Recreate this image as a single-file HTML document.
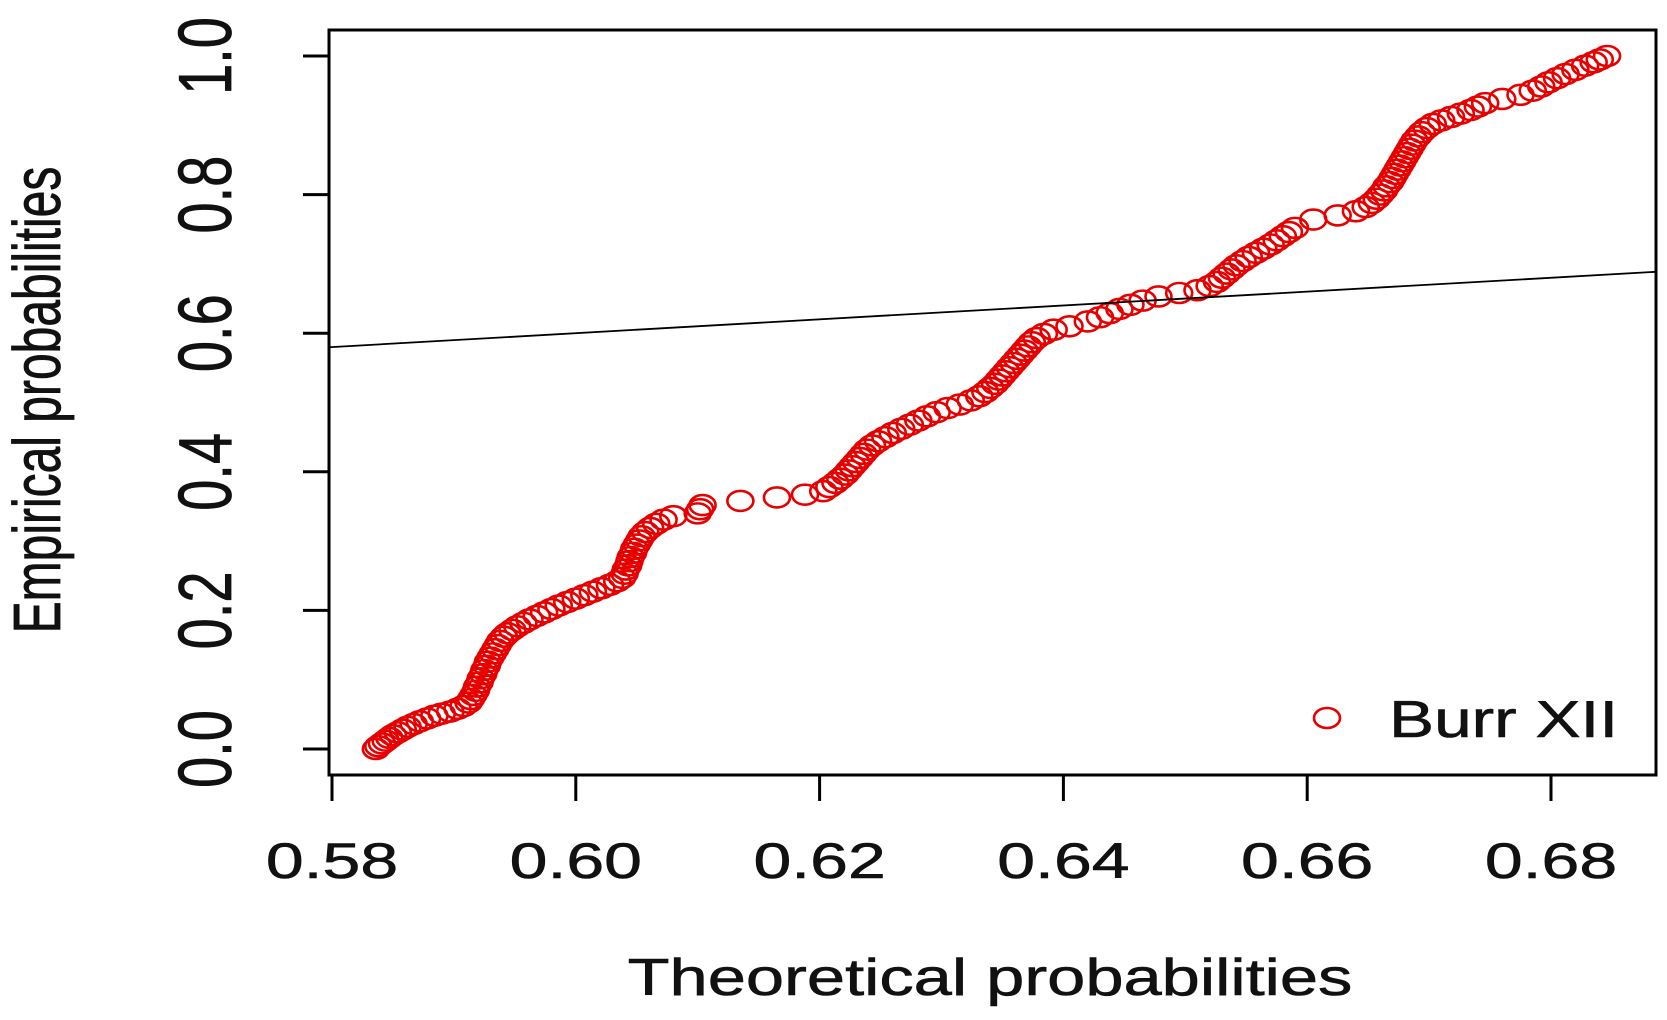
<!DOCTYPE html>
<html><head><meta charset="utf-8"><style>
body{margin:0;background:#fff}
svg{display:block;font-family:"Liberation Sans",Arial,sans-serif}
</style></head><body>
<svg id="chart" width="1667" height="1020" viewBox="0 0 1667 1020" xmlns="http://www.w3.org/2000/svg">
</svg>
<script>
const xTicks=[0.58,0.60,0.62,0.64,0.66,0.68];
const xTickLabels=["0.58","0.60","0.62","0.64","0.66","0.68"];
const yTicks=[0,0.2,0.4,0.6,0.8,1.0];
const yTickLabels=["0.0","0.2","0.4","0.6","0.8","1.0"];
const theoretical=[0.5836,0.5838,0.5841,0.5844,0.5847,0.5850,0.5854,0.5858,0.5862,0.5867,0.5872,0.5878,0.5884,0.5890,0.5897,0.5903,0.5908,0.5912,0.5914,0.5916,0.5918,0.5919,0.5921,0.5922,0.5924,0.5925,0.5927,0.5928,0.5930,0.5932,0.5934,0.5936,0.5938,0.5941,0.5944,0.5948,0.5952,0.5957,0.5962,0.5968,0.5974,0.5980,0.5986,0.5993,0.6000,0.6007,0.6014,0.6021,0.6028,0.6034,0.6038,0.6040,0.6041,0.6043,0.6044,0.6045,0.6047,0.6048,0.6050,0.6052,0.6054,0.6057,0.6061,0.6066,0.6072,0.6080,0.6100,0.6102,0.6104,0.6135,0.6165,0.6188,0.6203,0.6208,0.6213,0.6217,0.6221,0.6224,0.6227,0.6230,0.6233,0.6236,0.6239,0.6243,0.6248,0.6254,0.6260,0.6267,0.6274,0.6281,0.6288,0.6296,0.6305,0.6315,0.6324,0.6331,0.6336,0.6340,0.6344,0.6347,0.6350,0.6353,0.6356,0.6359,0.6362,0.6365,0.6368,0.6371,0.6374,0.6378,0.6384,0.6392,0.6405,0.6420,0.6430,0.6438,0.6446,0.6455,0.6465,0.6478,0.6495,0.6510,0.6520,0.6526,0.6530,0.6534,0.6538,0.6542,0.6547,0.6552,0.6558,0.6564,0.6570,0.6575,0.6580,0.6585,0.6590,0.6605,0.6625,0.6640,0.6648,0.6653,0.6657,0.6660,0.6663,0.6665,0.6668,0.6670,0.6672,0.6674,0.6676,0.6678,0.6680,0.6682,0.6684,0.6686,0.6688,0.6691,0.6694,0.6698,0.6703,0.6710,0.6718,0.6726,0.6734,0.6740,0.6746,0.6760,0.6775,0.6785,0.6792,0.6798,0.6805,0.6812,0.6820,0.6828,0.6835,0.6840,0.6846];
const empirical=[0,0.004,0.008,0.012,0.016,0.020,0.024,0.028,0.032,0.036,0.040,0.044,0.048,0.051,0.054,0.058,0.062,0.067,0.072,0.078,0.084,0.090,0.096,0.102,0.108,0.114,0.120,0.126,0.132,0.138,0.144,0.150,0.156,0.162,0.167,0.172,0.177,0.182,0.187,0.192,0.197,0.202,0.207,0.212,0.217,0.222,0.227,0.232,0.237,0.242,0.247,0.253,0.259,0.265,0.271,0.277,0.283,0.289,0.295,0.301,0.307,0.313,0.319,0.325,0.331,0.336,0.340,0.346,0.352,0.358,0.363,0.367,0.372,0.378,0.384,0.390,0.396,0.402,0.408,0.414,0.420,0.426,0.432,0.438,0.444,0.450,0.456,0.462,0.468,0.474,0.480,0.486,0.492,0.497,0.503,0.509,0.515,0.521,0.527,0.533,0.539,0.545,0.551,0.557,0.563,0.569,0.575,0.581,0.587,0.593,0.599,0.605,0.610,0.617,0.623,0.629,0.635,0.641,0.647,0.653,0.658,0.662,0.668,0.674,0.680,0.686,0.692,0.698,0.704,0.710,0.716,0.722,0.728,0.734,0.740,0.746,0.752,0.764,0.770,0.776,0.782,0.788,0.794,0.800,0.806,0.812,0.818,0.824,0.830,0.836,0.842,0.848,0.854,0.860,0.866,0.872,0.878,0.884,0.890,0.896,0.902,0.907,0.912,0.917,0.922,0.927,0.932,0.938,0.944,0.950,0.956,0.962,0.968,0.974,0.980,0.986,0.991,0.995,1.0];
const refLine=[0.5,0.7];

const L=329,R=1656,T=30,B=775;
const sx=v=>332+(v-0.58)*(1551-332)/0.10;
const sy=v=>749-v*(749-56);
const svg=document.getElementById('chart');
const NS='http://www.w3.org/2000/svg';
function mk(tag,attrs,parent){const e=document.createElementNS(NS,tag);for(const k in attrs)e.setAttribute(k,attrs[k]);(parent||svg).appendChild(e);return e;}

const clip=mk('clipPath',{id:'pc'});mk('rect',{x:L,y:T,width:R-L,height:B-T},clip);

xTicks.forEach((t,i)=>{
  const tk=mk('line',{x1:sx(t),x2:sx(t),y1:B,y2:B+26,stroke:'#000','stroke-width':3});
  
  
  const tl=mk('text',{x:0,y:0,'text-anchor':'middle','font-size':50,fill:'#111',stroke:'#111','stroke-width':0.6,transform:`translate(${sx(t)},878) scale(1.36,1)`});
  tl.textContent=xTickLabels[i];
  
  
});
yTicks.forEach((t,i)=>{
  const tk=mk('line',{x1:L-26,x2:L,y1:sy(t),y2:sy(t),stroke:'#000','stroke-width':3});
  
  
  const tl=mk('text',{x:0,y:0,'text-anchor':'middle','font-size':56,fill:'#111',stroke:'#111','stroke-width':0.6,transform:`translate(231,${sy(t)}) rotate(-90) scale(1,1.35)`});
  tl.textContent=yTickLabels[i];
  
  
});
const xa=mk('line',{x1:sx(xTicks[0]),x2:sx(xTicks[xTicks.length-1]),y1:B,y2:B,stroke:'#000','stroke-width':3});


const pts=mk('g',{'clip-path':'url(#pc)'});


theoretical.forEach((v,i)=>{
  const c=mk('ellipse',{cx:sx(v),cy:sy(empirical[i]),rx:13,ry:10,fill:'none',stroke:'#e60000','stroke-width':2.6},pts);
  
  
});
const rl=mk('line',{x1:sx(refLine[0]),y1:sy(refLine[0]),x2:sx(refLine[1]),y2:sy(refLine[1]),stroke:'#000','stroke-width':1.8,'clip-path':'url(#pc)'});



const box=mk('rect',{x:L,y:T,width:R-L,height:B-T,fill:'none',stroke:'#000','stroke-width':3});


const xt=mk('text',{x:0,y:0,'text-anchor':'middle','font-size':52,fill:'#111',stroke:'#111','stroke-width':0.6,transform:'translate(990,995) scale(1.32,1)'});
xt.textContent='Theoretical probabilities';

const yt=mk('text',{x:0,y:0,'text-anchor':'middle','font-size':48,fill:'#111',stroke:'#111','stroke-width':0.6,transform:'translate(60,400) rotate(-90) scale(1,1.4)'});
yt.textContent='Empirical probabilities';


const lg=mk('g',{});

mk('ellipse',{cx:1327,cy:718,rx:13,ry:10,fill:'none',stroke:'#e60000','stroke-width':2.6},lg);
const lt=mk('text',{x:0,y:0,'font-size':52,fill:'#111',stroke:'#111','stroke-width':0.6,transform:'translate(1389,737) scale(1.3,1)'},lg);
lt.textContent='Burr XII';
</script>
</body></html>
